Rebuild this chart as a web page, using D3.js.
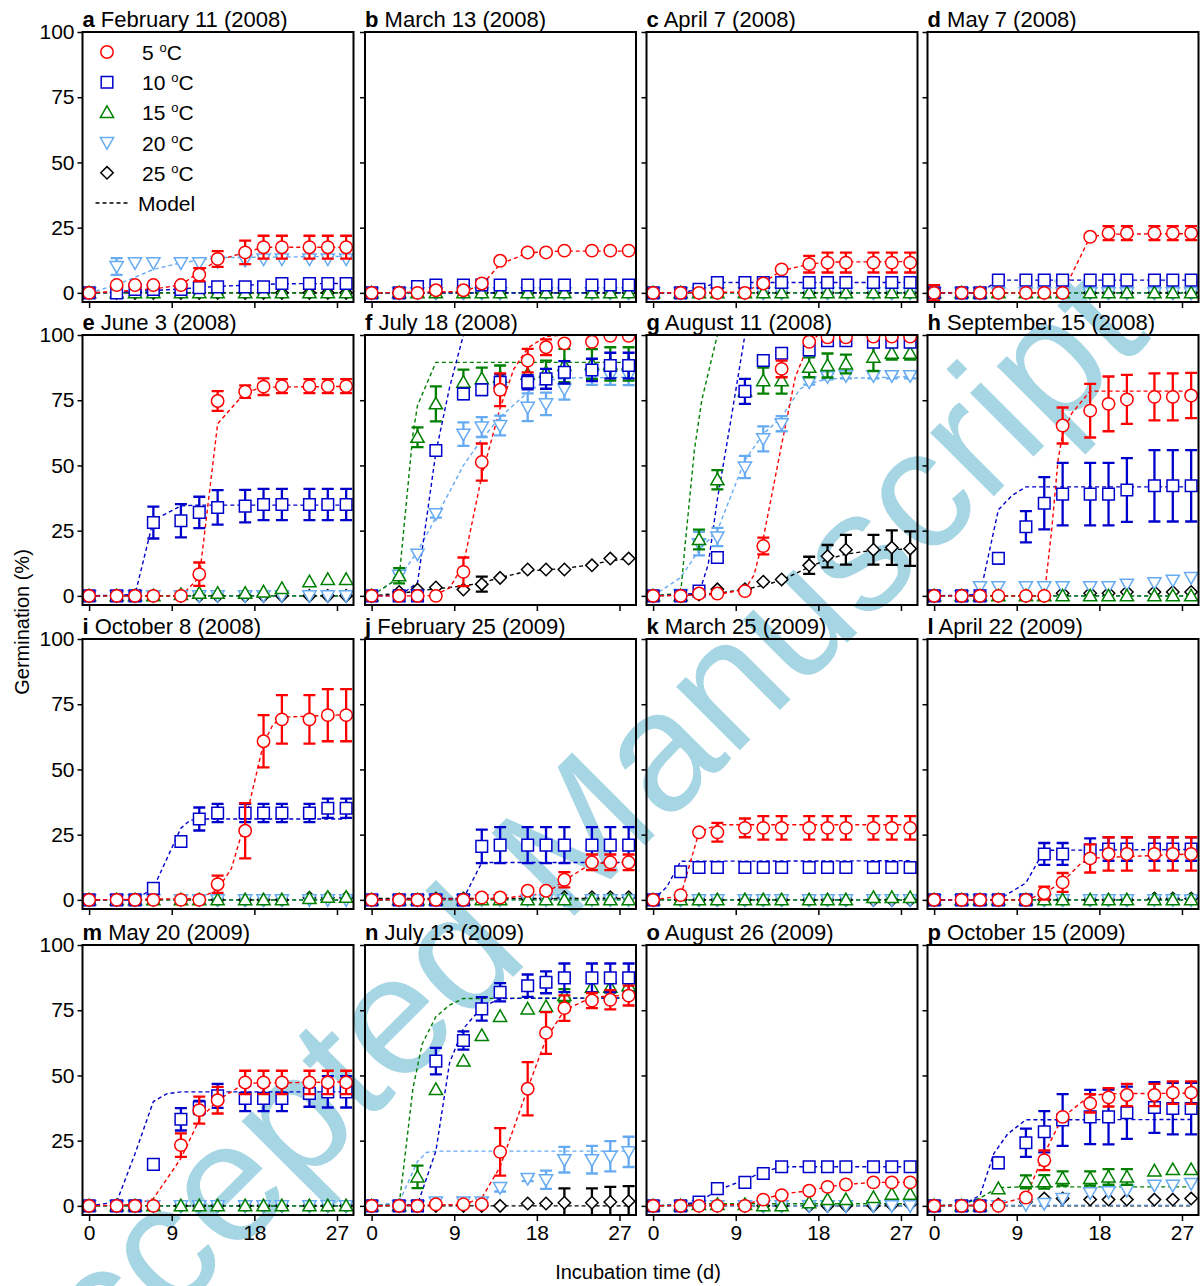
<!DOCTYPE html>
<html>
<head>
<meta charset="utf-8">
<script src="https://cdn.jsdelivr.net/npm/d3@7"></script>
<style>
body { margin: 0; background: #fff; }
svg { display: block; font-family: "Liberation Sans", Arial, sans-serif; }
</style>
</head>
<body>
<svg id="chart" width="1200" height="1286"></svg>
<script>
// sampling days (x) and panel labels
var days = [0, 3, 5, 7, 10, 12, 14, 17, 19, 21, 24, 26, 28];
var letters = ["a","b","c","d","e","f","g","h","i","j","k","l","m","n","o","p"];
var dates = ["February 11 (2008)","March 13 (2008)","April 7 (2008)","May 7 (2008)",
  "June 3 (2008)","July 18 (2008)","August 11 (2008)","September 15 (2008)",
  "October 8 (2008)","February 25 (2009)","March 25 (2009)","April 22 (2009)",
  "May 20 (2009)","July 13 (2009)","August 26 (2009)","October 15 (2009)"];
var temps = ["5", "10", "15", "20", "25"];
var xTicks = [0, 9, 18, 27];
var yTicks = [0, 25, 50, 75, 100];
var Z = [0,0,0,0,0,0,0,0,0,0,0,0,0];
var ZM = [[0,0],[28,0]];

// germination (%) per panel, 5 C
var germ5 = [
  [0,3,3,3,3,7,13,15.5,17.5,17.5,17.5,17.5,17.5],
  [0,0,0,1,1,3.6,12.3,15.5,15.5,16.2,16.2,16.2,16.2],
  [0,0,0,0,0,3.6,9,11,11.6,11.6,11.6,11.6,11.6],
  [0,0,0,0,0,0,0,21.5,22.9,22.9,22.9,22.9,22.9],
  [0,0,0,0,0,8.3,74.7,78.3,80.2,80.4,80.4,80.4,80.4],
  [0,0,0,0,9.2,51.3,79,90.2,95.3,96.8,97.4,99.7,99.7],
  [0,0,0.9,0.9,1.8,19.1,87,97.4,99.1,99.1,99.4,99.4,99.4],
  [0,0,0,0,0,0,65.3,71,73.6,75.3,76.3,76.3,76.8],
  [0,0,0,0,0,0,6,26.5,60.8,69.2,69.2,70.8,70.8],
  [0,0,0,0,0,0.9,0.9,3.5,3.5,7.7,14.4,14.4,14.4],
  [0,1.8,25.9,25.9,27.6,27.6,27.6,27.6,27.6,27.6,27.6,27.6,27.6],
  [0,0,0,0,0,2.6,6.7,15.9,17.6,17.6,17.6,17.6,17.6],
  [0,0,0,0,23.3,36.7,40.5,47.3,47.3,47.3,47.3,47.3,47.3],
  [0,0,0,0.6,0.6,0.6,20.7,44.9,66.3,75.8,78.7,79,80.6],
  [0,0,0,0,0,2.4,4.1,5.8,7.3,8.2,9,9,9],
  [0,0,0,0,3.2,17.5,34.1,39.3,41.6,42.5,42.5,43.4,43.4]
];
var err5 = [
  [0,0,0,0,0,2.5,3,4.5,4.4,4.4,4.4,4.4,4.4],
  Z,
  [0,0,0,0,0,0,0,3.2,3.8,3.8,3.8,3.8,3.8],
  [3,0,0,0,0,0,0,0,2.7,2.7,2.7,2.7,2.7],
  [0,0,0,0,0,4.5,3.8,2.4,3.2,2.7,2.7,2.7,2.7],
  [0,0,0,0,5.5,7.1,6.3,4.5,3,0,0,0,0],
  [0,0,0,0,0,3.2,3.2,0,0,0,0,0,0],
  [0,0,0,0,0,0,6.9,10.3,10.5,9.4,9,9,8.7],
  [0,0,0,0,0,0,3.3,10.6,10,9.3,9.3,10,10],
  [0,0,0,0,0,0,0,0,0,2.9,3,3,3],
  [0,0,0,3.6,3.6,4.5,4.5,4.5,4.5,4.5,4.5,4.5,4.5],
  [0,0,0,0,0,2.5,3.6,5.4,6.4,6.4,6.4,6.4,6.4],
  [0,0,0,0,4.5,5.2,5.1,4.5,4.5,4.5,4.5,4.5,4.5],
  [0,0,0,0,0,0,9.1,10.2,8,4.9,2.9,3.7,3.8],
  Z,
  [0,0,0,0,0,3.8,0,3.5,3.5,4.3,4.3,4.3,4.3]
];
var model5 = [
  [[0,0],[3,0.5],[7,1.5],[10,3],[12,8],[14,12.5],[17,15.5],[19,17.5],[28,17.5]],
  [[0,0],[10,0.5],[12,3],[14,11],[17,15.3],[19,15.8],[21,16],[28,16]],
  [[0,0],[10,0.3],[12,4],[14,8.5],[17,11],[19,11.8],[28,12]],
  [[0,0],[14,0],[17,21.5],[19,22.5],[28,22.7]],
  [[0,0],[10,0],[12,7],[14,66],[17,78],[19,80],[28,80.3]],
  [[0,0],[6,0],[7,0.5],[8.5,3],[10,12],[12,46],[14,72],[15.5,87],[17,95],[19,99.5],[21,100],[28,100]],
  [[0,0],[7,0.5],[10,2.5],[11,8],[12,22],[14,58],[15.5,84],[17,97],[18,100],[28,100]],
  [[0,0],[12,0],[12.8,25],[13.5,52],[14,62],[15,70],[17,78.5],[28,78.5]],
  [[0,0],[12,0.5],[14,4],[15.5,12],[17,30],[19,60],[20,67],[21,70],[28,71]],
  [[0,0],[14,0.5],[19,2.5],[21,7.5],[24,14],[28,14.4]],
  [[0,0],[3,1.5],[5,26],[7,28.8],[28,28.8]],
  [[0,0],[10,0],[12,2.5],[14,7],[16,14],[17,16],[28,17.6]],
  [[0,0],[5,0.5],[7,2.8],[10,18.2],[12,33],[14,40.5],[17,47],[28,47.5]],
  [[0,0],[10,0.5],[12,3],[14,15],[17,45],[19,64],[21,75],[24,80],[28,80.8]],
  [[0,0],[10,0.5],[12,2.5],[14,4.5],[17,5.8],[19,7.3],[21,8.2],[24,9],[28,9]],
  [[0,0],[7,0.5],[10,3.5],[12,20],[14,34],[17,42.3],[19,43],[28,43.2]]
];

// 10 C
var germ10 = [
  [0,0,1.3,1.3,1.3,2,2.3,2.3,2.3,3.6,3.6,3.6,3.6],
  [0,0,2.4,3,3,3,3,3,3,3,3,3,3],
  [0,0,1.4,4,4,4,4,4,4,4,4,4,4],
  [0,0,0,4.9,4.9,4.9,4.9,4.9,4.9,4.9,4.9,4.9,4.9],
  [0,0,0,28.1,28.8,32,33.9,34.4,35,35,35,35,35],
  [0,0,0,55.7,77.4,79,81.9,81.9,83.2,85.7,86.6,88.3,88.3],
  [0,0,1.8,14.7,78.4,90.2,93,94.3,97.8,97.8,97.2,97.2,97.2],
  [0,0,0,14.4,26.5,35.5,39,39,39,40.6,42.2,42.2,42.2],
  [0,0,0,4.4,22.4,31,33.3,33.3,33.3,33.3,33.3,35.1,35.1],
  [0,0,0,0,0,20.5,21,21,21,21,21,21,21],
  [0,10.8,12.4,12.4,12.4,12.4,12.4,12.4,12.4,12.4,12.4,12.4,12.4],
  [0,0,0,0,0,17.6,17.6,19.1,19.5,19.5,19.5,19.5,19.5],
  [0,0,0,15.9,33.2,37.7,42.2,41.2,41.2,41.2,43.1,43.7,43.7],
  [0,0,0,55.5,63.4,75.5,81.9,84.4,85.7,87.4,87.4,87.4,87.4],
  [0,0,1.5,6.6,9,12.4,15,15,15,15,15,15,15],
  [0,0,0,16.5,24.2,28.4,32.9,34.1,34.1,35.7,37.7,37.3,37.3]
];
var err10 = [
  Z, Z, Z, Z,
  [0,0,0,6.1,6.4,6,6.6,6.2,6,6,6,6,6],
  [0,0,0,1.5,2,2,3,2.7,3.8,4.3,4.3,4.9,4.9],
  [0,0,0,0,4.8,0,0,0,0,0,0,0,0],
  [0,0,0,2,6,10,12,12,12,12.2,13.7,13.7,13.7],
  [0,0,0,0,0,4.4,3.5,3.5,3.5,3.5,3.5,3.7,3.7],
  [0,0,0,0,0,6.4,6.9,6.9,6.9,6.9,6.9,6.9,6.9],
  [0,0,2,2,2,2,2,2,2,2,2,2,2],
  [0,0,0,0,0,4.2,4.2,4.5,4.5,4.5,4.5,4.5,4.5],
  [0,0,0,0,4.3,2.5,4.6,4.9,4.9,4.9,5.1,6,6],
  [0,0,0,5.1,3.5,4.5,3.5,4.3,4.2,5.5,5.5,5.5,5.5],
  Z,
  [0,0,0,2,5.4,7.9,9.9,10.4,10.5,10,9.7,9.9,9.9]
];
var model10 = [
  [[0,0],[5,0.5],[10,1.5],[14,2.5],[19,3.2],[21,3.5],[28,3.6]],
  ZM,
  [[0,0],[3,0],[5,1.5],[7,4],[28,4]],
  [[0,0],[5,0],[7,4.9],[28,4.9]],
  [[0,0],[5,0.5],[7,29],[10,34.5],[12,34.8],[28,34.8]],
  [[0,0],[3,0],[5,5],[7,55],[8.5,80],[10,100],[28,100]],
  [[0,0],[5,1],[6,12],[7,37],[8.5,68],[10,100],[28,100]],
  [[0,0],[5,0.5],[7,33],[8.5,38.5],[10,41.8],[28,41.8]],
  [[0,0],[5,0],[7,4.5],[10,27.5],[11,30.5],[12,31],[28,31]],
  [[0,0],[10,0.5],[12,14.3],[28,14.3]],
  [[0,0],[1.5,5],[3,14.8],[28,15]],
  [[0,0],[7,0],[10,6.5],[12,19],[28,19.3]],
  [[0,0],[3,1.5],[5,20],[7,40],[8.5,43],[10,43.7],[28,43.7]],
  [[0,0],[5,0.5],[7,21],[8.5,55],[10,68],[12,76],[14,79.5],[28,79.7]],
  [[0,0],[3,0.5],[5,1.5],[7,6],[10,10],[12,13],[14,15],[28,15]],
  [[0,0],[3,0.3],[5,4],[6.5,20],[7,22.5],[8,27.5],[10,33],[28,33.1]]
];

// 15 C
var germ15 = [
  Z, Z, Z, Z,
  [0,0,0,0,0.5,1,1,1,1.5,2.8,5.4,6.3,6.3],
  [0,7.7,60.8,73.6,81.9,83.2,83.8,85,85.7,88.3,88.9,88.9,88.9],
  [0,0,21.6,44.5,78.5,82.5,82.5,87.6,88.3,88.9,91.5,93,93],
  Z,
  [0,0,0,0,0,0,0,0,0,0,0.5,1,1],
  Z,
  [0,0,0,0,0,0,0,0,0,0,0.9,0.9,0.9],
  Z, Z,
  [0,0,11.1,44.6,55.5,65.3,72.6,75.5,76.4,80.6,83.8,83.8,84.4],
  [0,0,0.5,0.5,0.5,0,0,1.2,2.4,2.4,3.2,4.5,4.5],
  [0,0,0,6.6,9.2,9.2,10.5,10.5,11.1,11.1,13.4,13.9,13.9]
];
var err15 = [
  Z, Z, Z, Z, Z,
  [0,2.9,3.8,6.7,4.8,4.3,4.5,4.5,4.5,6.4,5.7,6.4,6.4],
  [0,0,3.8,3.7,0,5,5,3.8,4.6,3.6,5.3,2.4,2.4],
  Z, Z, Z, Z, Z, Z,
  [0,0,4.3,0,0,0,0,0,0,2.5,2,2,2],
  Z,
  [0,0,0,0,2.5,2.6,2.7,2.7,3,3,0,0,0]
];
var model15 = [
  ZM, ZM, ZM, ZM, ZM,
  [[0,0],[3,7],[4.5,62],[5,73],[7,89.5],[28,89.5]],
  [[0,0],[3,1],[3.5,20],[4.5,56],[5.3,75],[7,100],[28,100]],
  ZM, ZM, ZM, ZM, ZM, ZM,
  [[0,0],[3,0.5],[3.5,15],[4.5,45],[5.5,62],[7,72.5],[8.5,77],[10,79.5],[28,79.7]],
  [[0,0],[3,0.3],[5,0.8],[28,0.8]],
  [[0,0],[3,0.5],[5,3],[7,7],[10,7.3],[28,7.3]]
];

// 20 C
var germ20 = [
  [0,10.1,11.5,11.5,11.5,11.5,12,12.5,13,13,13,13,13],
  Z, Z, Z, Z,
  [0,7.9,16,31.5,62,64.7,65.3,72.3,73.6,79.3,84.4,84.4,84.4],
  [0,0.5,20,22.6,49.4,60.2,66,82,84,84.4,84.4,84.4,84.4],
  [0,0,3.5,3.5,3.5,3.5,3.5,3.5,3.5,4.5,5,6,7],
  Z, Z, Z, Z, Z,
  [0,0,0,1.5,1.5,1.5,7,10.5,10,17.7,17.7,19,20.7],
  Z,
  [0,0,0,0,0.5,0.9,2.8,5,5.4,6,7.9,7.9,8.6]
];
var err20 = [
  [0,3.2,0,0,0,0,0,0,0,0,0,0,0],
  Z, Z, Z, Z,
  [0,1,0,1.5,4.5,3.8,3.8,5.3,4.3,4.1,3.5,3.5,3.6],
  [0,0,4.5,3.5,4.3,4.8,2.9,1,1,1,1,1,1],
  Z, Z, Z, Z, Z, Z,
  [0,0,0,0,0,0,1.5,1,3.5,4.9,5.3,5.8,5.8],
  Z, Z
];
var model20 = [
  [[0,0],[3,3],[5,6],[7,9],[10,11.5],[12,12.5],[14,13.5],[28,14]],
  ZM, ZM, ZM, ZM,
  [[0,0],[3,7],[5,17],[7,30],[10,50],[12,60],[14,68.5],[17,78],[19,82.5],[21,83.5],[28,83.8]],
  [[0,0],[3,7],[5,17.5],[7,25],[10,52],[12,62],[14,68.5],[16,79.3],[17,81.3],[19,83.2],[28,84]],
  ZM, ZM, ZM, ZM, ZM, ZM,
  [[0,0],[3,1.5],[5,17],[6,20.5],[7,21],[28,21]],
  ZM,
  [[0,0.3],[28,0.3]]
];

// 25 C
var germ25 = [
  Z, Z, Z, Z, Z,
  [0,1.5,2.4,3.2,2.4,4.5,6.9,10.1,10.1,10.1,11.7,14.3,14.3],
  [0,0,0.5,2.5,2.5,5.4,6.3,11.7,15.2,17.7,17.7,18.5,18.1],
  [0,0,0,0,0,0,1,1,1,1.5,1.5,1.5,1.5],
  [0,0,0,0,0,0,0,0,0,0,0.8,0.8,0.8],
  [0,0,0,0.5,0.5,0.5,0.5,0.5,0.5,1,1,1,1],
  Z,
  [0,0,0,0,0,0,0,0,0,0,0.5,0.5,0.5],
  Z,
  [0,0,0,0,0,0,0,0.9,0.9,1.2,1.2,1.5,1.8],
  [0,0,0,0,0,0,0,0,0,0,0,0.3,0.6],
  [0,0,0,0.5,1.5,2.8,2.8,2.4,2.4,2.4,2.4,2.4,2.8]
];
var err25 = [
  Z, Z, Z, Z, Z,
  [0,0,0,0,0,2.9,0,0,0,0,0,0,0],
  [0,0,0,0,0,0,0,3.3,4.3,5.7,5.7,6.6,6.6],
  Z, Z, Z, Z, Z, Z,
  [0,0,0,0,0,0,0,0,0,5.5,5.5,5.8,5.8],
  Z, Z
];
var model25 = [
  ZM, ZM, ZM, ZM, ZM,
  [[0,0],[3,1],[5,1.8],[7,2.7],[10,3.8],[12,5],[14,7],[17,9.5],[19,10],[21,10.5],[24,12],[26,13.5],[28,14.2]],
  [[0,0],[5,0.5],[7,1],[10,2.5],[12,4],[14,6],[17,11],[19,14],[21,16],[24,17.5],[28,18]],
  ZM, ZM,
  [[0,0.5],[28,0.5]],
  ZM, ZM, ZM, ZM, ZM, ZM
];

var colors = ["#ff0000", "#0000cc", "#008000", "#66aaf2", "#000000"];
var shapes = ["circle", "square", "up", "down", "diamond"];
var shapePath = {
  circle: "M6.2,0A6.2,6.2 0 1,1 -6.2,0A6.2,6.2 0 1,1 6.2,0Z",
  square: "M-5.8,-5.8H5.8V5.8H-5.8Z",
  up: "M0,-6.6L6.6,5L-6.6,5Z",
  down: "M0,6.6L6.6,-5L-6.6,-5Z",
  diamond: "M0,-6.2L6.2,0L0,6.2L-6.2,0Z"
};

var series = temps.map(function(t, k) {
  return {
    temp: t, color: colors[k], shape: shapes[k],
    germ: [germ5, germ10, germ15, germ20, germ25][k],
    err: [err5, err10, err15, err20, err25][k],
    model: [model5, model10, model15, model20, model25][k]
  };
});
var drawOrder = [4, 3, 2, 1, 0];

var dim = { width: 271, height: 270 };
var colLeft = [82.5, 365, 646.5, 927.5];
var rowTop = [32, 335, 639, 945];

var x = d3.scaleLinear().domain([-0.72, 28.8]).range([0, dim.width]);
var y = d3.scaleLinear().domain([-3.5, 100]).range([dim.height, 0]);
var line = d3.line().x(function(d) { return x(d[0]); }).y(function(d) { return y(d[1]); });

var svg = d3.select("#chart");
svg.append("rect").attr("width", 1200).attr("height", 1286).attr("fill", "#fff");

// watermark behind the chart
svg.append("text")
    .attr("transform", "translate(30,1460) rotate(-45)")
    .attr("font-size", 170)
    .attr("fill", "#a6d5e4")
    .text("Accepted Manuscript");

letters.forEach(function(letter, i) {
  var col = i % 4, row = Math.floor(i / 4);
  var g = svg.append("g")
      .attr("transform", "translate(" + colLeft[col] + "," + rowTop[row] + ")");

  g.append("clipPath").attr("id", "clip" + i)
    .append("rect").attr("width", dim.width).attr("height", dim.height);
  var plot = g.append("g").attr("clip-path", "url(#clip" + i + ")");

  // model curves
  drawOrder.forEach(function(k) {
    var s = series[k];
    plot.append("path")
        .datum(s.model[i])
        .attr("d", line)
        .attr("fill", "none")
        .attr("stroke", s.color)
        .attr("stroke-width", 1.4)
        .attr("stroke-dasharray", "4,3");
  });

  // observations with error bars
  drawOrder.forEach(function(k) {
    var s = series[k];
    var pts = days.map(function(d, j) { return { d: d, v: s.germ[i][j], e: s.err[i][j] }; });
    plot.selectAll(null)
        .data(pts.filter(function(p) { return p.e > 0; }))
      .enter().append("path")
        .attr("d", function(p) {
          var cx = x(p.d), y1 = y(p.v + p.e), y2 = y(p.v - p.e);
          return "M" + (cx - 6) + "," + y1 + "H" + (cx + 6) +
                 "M" + cx + "," + y1 + "V" + y2 +
                 "M" + (cx - 6) + "," + y2 + "H" + (cx + 6);
        })
        .attr("fill", "none")
        .attr("stroke", s.color)
        .attr("stroke-width", 2.3);
    plot.selectAll(null)
        .data(pts)
      .enter().append("path")
        .attr("transform", function(p) { return "translate(" + x(p.d) + "," + y(p.v) + ")"; })
        .attr("d", shapePath[s.shape])
        .attr("fill", "#fff")
        .attr("stroke", s.color)
        .attr("stroke-width", 1.5);
  });

  // frame
  g.append("rect")
      .attr("width", dim.width).attr("height", dim.height)
      .attr("fill", "none").attr("stroke", "#000").attr("stroke-width", 2);

  var yAxis = d3.axisLeft(y).tickValues(yTicks).tickSize(5).tickPadding(3)
      .tickFormat(col === 0 ? d3.format("d") : function() { return ""; });
  var xAxis = d3.axisBottom(x).tickValues(xTicks).tickSize(6).tickPadding(4)
      .tickFormat(row === 3 ? d3.format("d") : function() { return ""; });

  var ya = g.append("g").call(yAxis);
  var xa = g.append("g").attr("transform", "translate(0," + dim.height + ")").call(xAxis);
  [ya, xa].forEach(function(a) {
    a.select(".domain").remove();
    a.attr("font-size", 21).attr("font-family", "Liberation Sans, Arial, sans-serif");
    a.selectAll(".tick line").attr("stroke", "#000").attr("stroke-width", 1.5);
    a.selectAll(".tick text").attr("fill", "#000");
  });

  // panel title
  var title = g.append("text").attr("x", 0).attr("y", -5).attr("font-size", 22).attr("fill", "#000");
  title.append("tspan").attr("font-weight", "bold").text(letter);
  title.append("tspan").text(" " + dates[i]);

  // legend in first panel
  if (i === 0) {
    var lg = g.append("g");
    temps.forEach(function(t, k) {
      var ly = 20 + k * 30.2;
      lg.append("path")
          .attr("transform", "translate(24.5," + ly + ")")
          .attr("d", shapePath[shapes[k]])
          .attr("fill", "#fff").attr("stroke", colors[k]).attr("stroke-width", 1.5);
      var tx = lg.append("text").attr("x", 59.5).attr("y", ly + 8).attr("font-size", 21).attr("fill", "#000");
      tx.append("tspan").text(t + " ");
      tx.append("tspan").attr("font-size", 13).attr("dy", -8).text("o");
      tx.append("tspan").attr("dy", 8).text("C");
    });
    var my = 20 + 5 * 30.2;
    lg.append("line").attr("x1", 13).attr("x2", 48).attr("y1", my).attr("y2", my)
        .attr("stroke", "#000").attr("stroke-width", 1.4).attr("stroke-dasharray", "4,3");
    lg.append("text").attr("x", 55.5).attr("y", my + 8).attr("font-size", 21).attr("fill", "#000").text("Model");
  }
});

// axis titles
svg.append("text")
    .attr("transform", "translate(29,622) rotate(-90)")
    .attr("text-anchor", "middle").attr("font-size", 20).attr("fill", "#000")
    .text("Germination (%)");
svg.append("text")
    .attr("x", 638).attr("y", 1279)
    .attr("text-anchor", "middle").attr("font-size", 20).attr("fill", "#000")
    .text("Incubation time (d)");
</script>
</body>
</html>
